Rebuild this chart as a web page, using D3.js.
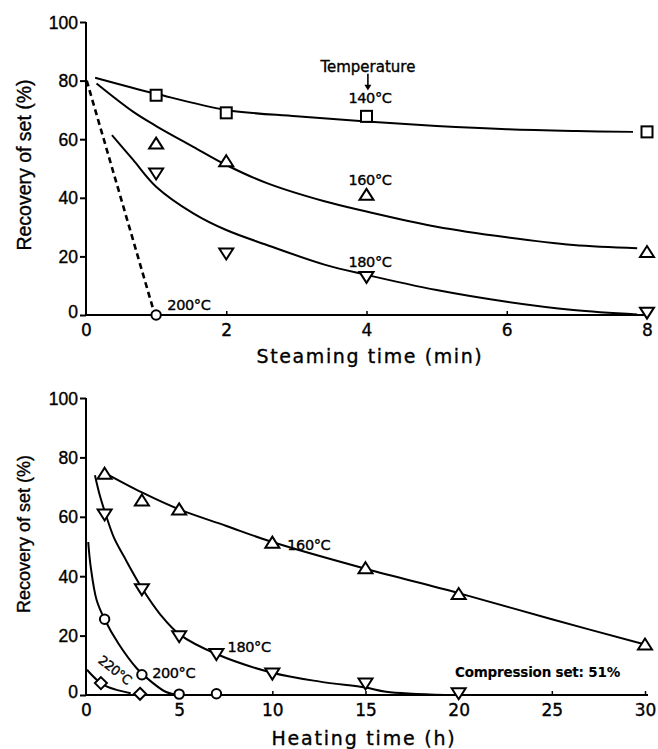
<!DOCTYPE html>
<html>
<head>
<meta charset="utf-8">
<script src="https://cdn.jsdelivr.net/npm/d3@7"></script>
<style>
  html, body { margin: 0; padding: 0; background: #fff; }
  svg { display: block; }
  text { stroke: #000; stroke-width: 0.35px; }
</style>
</head>
<body>
<svg id="chart" width="658" height="749"></svg>
<script>
// ---------- Top panel: steaming ----------
const topXTicks = [0, 2, 4, 6, 8];
const topYTicks = [0, 20, 40, 60, 80, 100];
const top140 = [[1, 75], [2, 69], [4, 67.8], [8, 62.5]];
const top160 = [[1, 58.5], [2, 52.5], [4, 41], [8, 21.5]];
const top180 = [[1, 48.3], [2, 21], [4, 13], [8, 0.8]];
const top200 = [[1, 0]];
const topCurve140 = [[0.13, 81], [1, 75.5], [2, 70], [3, 67.8], [4, 66], [5, 64.5], [6, 63.4], [7, 62.8], [7.8, 62.5]];
const topCurve160 = [[0.15, 79], [0.67, 69.4], [1, 64.5], [1.53, 57.4], [2, 51.2], [2.58, 45], [3.4, 38.8], [4, 35.3], [5, 30.1], [6, 26.5], [6.95, 23.9], [7.86, 22.8]];
const topCurve180 = [[0.37, 61.4], [0.67, 53], [1, 43.8], [1.53, 34.7], [2, 29], [2.58, 23.9], [3.4, 17.2], [4, 13.7], [5, 8.5], [6, 4.5], [6.95, 1.7], [7.86, 0.2]];
const topCurve200 = [[0.01, 80], [0.97, 1]];

// ---------- Bottom panel: heating ----------
const botXTicks = [0, 5, 10, 15, 20, 25, 30];
const botYTicks = [0, 20, 40, 60, 80, 100];
const bot160 = [[1, 74.5], [3, 65.5], [5, 62.5], [10, 51.3], [15, 42.7], [20, 34], [30, 17]];
const bot180 = [[1, 60.8], [3, 35.6], [5, 19.8], [7, 13.8], [10, 7.2], [15, 3.9], [20, 0.6]];
const bot200 = [[1, 25.5], [3, 6.8], [5, 0.3], [7, 0.4]];
const bot220 = [[0.8, 4], [2.9, 0.4]];
const botCurve160 = [[1, 74.8], [3, 68.2], [5, 62.5], [7.5, 57], [10, 51.5], [15, 42.5], [20, 34.3], [25, 25.5], [30, 17]];
const botCurve180 = [[0.48, 74], [0.75, 67], [1.1, 60], [1.5, 53], [2.04, 46.6], [3, 36], [4, 27], [5, 20.5], [7, 13.8], [10, 7.5], [12.56, 4.5], [15, 2.5], [16.1, 1.1], [19.3, 0]];
const botCurve200 = [[0.12, 51.5], [0.25, 43.3], [0.57, 32], [1, 25.5], [1.73, 17.4], [2.72, 9], [3.5, 4.5], [4.3, 1], [5, 0]];
const botCurve220 = [[0.05, 8.5], [0.6, 5], [1.1, 2.9], [1.6, 1.8], [2.4, 0.6]];

const svg = d3.select("#chart");
const tickFont = "'Liberation Sans', Arial, sans-serif";
const geoFont = "'DejaVu Sans', sans-serif";

const xTop = d3.scaleLinear().domain([0, 8]).range([86, 647]);
const yTop = d3.scaleLinear().domain([0, 100]).range([315, 22]);
const xBot = d3.scaleLinear().domain([0, 30]).range([86, 645]);
const yBot = d3.scaleLinear().domain([0, 100]).range([695, 398]);

function drawAxes(x, y, xTicks, yTicks, xEnd) {
  const g = svg.append("g");
  const y0 = y(0), x0 = x(0);
  const ya = g.append("g").attr("transform", `translate(${x0},0)`)
    .call(d3.axisLeft(y).tickValues(yTicks).tickSize(6).tickFormat(d3.format("d")));
  ya.select(".domain").remove();
  ya.selectAll(".tick line").attr("stroke", "#000").attr("stroke-width", 2);
  ya.selectAll(".tick text").attr("font-family", tickFont).attr("font-size", 17.5)
    .attr("fill", "#000").attr("x", -8)
    .attr("dy", d => d === 0 ? "0.15em" : "0.35em");
  g.append("line").attr("x1", x0).attr("x2", x0).attr("y1", y(100)).attr("y2", y0 + 1)
    .attr("stroke", "#000").attr("stroke-width", 2);
  const xa = g.append("g").attr("transform", `translate(0,${y0})`)
    .call(d3.axisBottom(x).tickValues(xTicks).tickSize(-4).tickPadding(7));
  xa.select(".domain").remove();
  xa.selectAll(".tick line").attr("stroke", "#000").attr("stroke-width", 1.5)
    .attr("y2", d => d === 0 ? 0 : -4);
  xa.selectAll(".tick text").attr("font-family", geoFont).attr("font-size", 17)
    .attr("fill", "#000").attr("dy", "0.85em");
  g.append("line").attr("x1", x0 - 1).attr("x2", xEnd).attr("y1", y0).attr("y2", y0)
    .attr("stroke", "#000").attr("stroke-width", 2);
  return g;
}

function drawCurve(x, y, pts, dashed) {
  const line = d3.line().x(d => x(d[0])).y(d => y(d[1])).curve(d3.curveCatmullRom.alpha(0.5));
  svg.append("path").attr("d", line(pts)).attr("fill", "none").attr("stroke", "#000")
    .attr("stroke-width", dashed ? 2.6 : 2).attr("stroke-dasharray", dashed ? "6,4" : null);
}

function drawMarkers(x, y, pts, shape) {
  const g = svg.append("g");
  pts.forEach(p => {
    const cx = x(p[0]), cy = y(p[1]);
    let el;
    if (shape === "square") {
      el = g.append("rect").attr("x", cx - 5.5).attr("y", cy - 5.5).attr("width", 11).attr("height", 11);
    } else if (shape === "up") {
      el = g.append("path").attr("d", `M${cx},${cy - 6}L${cx + 7},${cy + 5}L${cx - 7},${cy + 5}Z`);
    } else if (shape === "down") {
      el = g.append("path").attr("d", `M${cx},${cy + 6}L${cx + 7},${cy - 5}L${cx - 7},${cy - 5}Z`);
    } else if (shape === "circle") {
      el = g.append("circle").attr("cx", cx).attr("cy", cy).attr("r", 4.7);
    } else if (shape === "diamond") {
      el = g.append("path").attr("d", `M${cx},${cy - 6}L${cx + 6},${cy}L${cx},${cy + 6}L${cx - 6},${cy}Z`);
    }
    el.attr("fill", "#fff").attr("stroke", "#000").attr("stroke-width", 2);
  });
}

function label(x, y, xv, yv, text, size, anchor, ls) {
  return svg.append("text").attr("x", x(xv)).attr("y", y(yv)).text(text)
    .attr("font-family", geoFont).attr("font-size", size).attr("fill", "#000")
    .attr("text-anchor", anchor || "start").attr("letter-spacing", ls || "-0.4px");
}

// ---- Top panel ----
drawAxes(xTop, yTop, topXTicks, topYTicks, 650);
drawCurve(xTop, yTop, topCurve140);
drawCurve(xTop, yTop, topCurve160);
drawCurve(xTop, yTop, topCurve180);
drawCurve(xTop, yTop, topCurve200, true);
drawMarkers(xTop, yTop, top140, "square");
drawMarkers(xTop, yTop, top160, "up");
drawMarkers(xTop, yTop, top180, "down");
drawMarkers(xTop, yTop, top200, "circle");

label(xTop, yTop, 4.02, 83, "Temperature", 15, "middle", "0px");
svg.append("line").attr("x1", xTop(4.02)).attr("x2", xTop(4.02)).attr("y1", yTop(82.3)).attr("y2", yTop(78.2))
  .attr("stroke", "#000").attr("stroke-width", 1.6);
svg.append("path").attr("d", `M${xTop(4.02) - 3.5},${yTop(78.6)}L${xTop(4.02) + 3.5},${yTop(78.6)}L${xTop(4.02)},${yTop(76.6)}Z`).attr("fill", "#000");
label(xTop, yTop, 4.05, 72.3, "140°C", 14.5, "middle");
label(xTop, yTop, 4.05, 44.4, "160°C", 14.5, "middle");
label(xTop, yTop, 4.05, 16.4, "180°C", 14.5, "middle");
label(xTop, yTop, 1.16, 1.8, "200°C", 14.5, "start");

svg.append("text").attr("x", 370).attr("y", 363).text("Steaming time (min)")
  .attr("font-family", geoFont).attr("font-size", 19).attr("letter-spacing", "1.6px")
  .attr("text-anchor", "middle").attr("fill", "#000");
svg.append("text").attr("transform", "translate(31,165) rotate(-90)").text("Recovery of set (%)")
  .attr("font-family", tickFont).attr("font-size", 19.5).attr("text-anchor", "middle").attr("fill", "#000");

// ---- Bottom panel ----
drawAxes(xBot, yBot, botXTicks, botYTicks, 648);
drawCurve(xBot, yBot, botCurve160);
drawCurve(xBot, yBot, botCurve180);
drawCurve(xBot, yBot, botCurve200);
drawCurve(xBot, yBot, botCurve220);
drawMarkers(xBot, yBot, bot160, "up");
drawMarkers(xBot, yBot, bot180, "down");
drawMarkers(xBot, yBot, bot200, "circle");
drawMarkers(xBot, yBot, bot220, "diamond");

label(xBot, yBot, 10.8, 48.8, "160°C", 14.5, "start");
label(xBot, yBot, 7.6, 14.6, "180°C", 14.5, "start");
label(xBot, yBot, 3.55, 5.7, "200°C", 14.5, "start");
svg.append("text").attr("transform", `translate(${xBot(1.4)},${yBot(7.2)}) rotate(38)`).text("220°C")
  .attr("font-family", geoFont).attr("font-size", 13).attr("letter-spacing", "-0.6px")
  .attr("text-anchor", "middle").attr("fill", "#000");
svg.append("text").attr("x", xBot(19.8)).attr("y", yBot(6.1)).text("Compression set: 51%")
  .attr("font-family", geoFont).attr("font-size", 13.5).attr("font-weight", "bold")
  .attr("letter-spacing", "-0.2px").attr("fill", "#000").style("stroke-width", "0.1px");

svg.append("text").attr("x", 364).attr("y", 745).text("Heating time (h)")
  .attr("font-family", geoFont).attr("font-size", 19).attr("letter-spacing", "1.8px")
  .attr("text-anchor", "middle").attr("fill", "#000");
svg.append("text").attr("transform", "translate(30,534) rotate(-90)").text("Recovery of set (%)")
  .attr("font-family", tickFont).attr("font-size", 18).attr("text-anchor", "middle").attr("fill", "#000");
</script>
</body>
</html>
